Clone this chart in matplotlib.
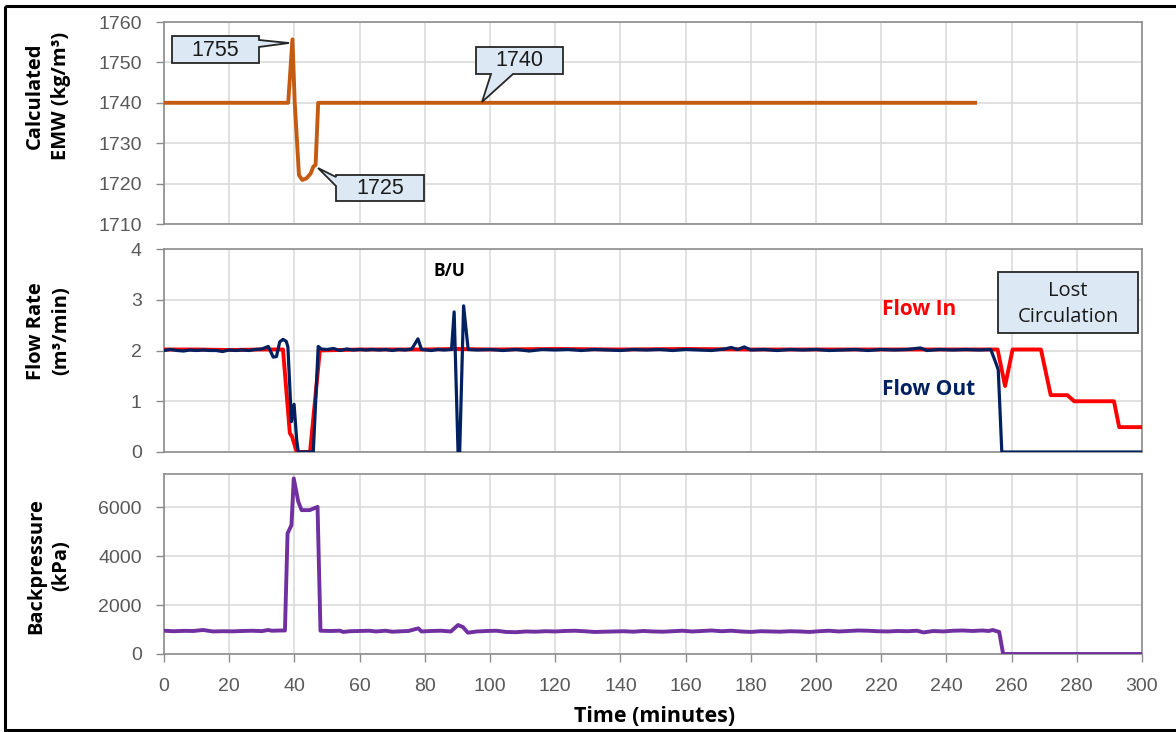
import matplotlib
matplotlib.use('Agg')
import matplotlib.pyplot as plt
from matplotlib.patches import Polygon, Rectangle
from matplotlib.transforms import Affine2D

# ---------------- data ----------------
emw_t = [0, 38.1, 39.4, 40.1, 41.4, 42.4, 43.7, 45.0, 45.8, 46.5, 47.3, 248.8]
emw_v = [1740, 1740, 1755.7, 1740, 1722.1, 1720.9, 1721.3, 1722.5, 1724.2, 1724.6, 1740, 1740]

flow_in_t = [0, 10, 20, 30, 36.5, 38.6, 39.3, 40.7, 44.8, 47.8, 60, 80, 90, 100, 120, 140,
             160, 180, 200, 220, 240, 255.7, 258.0, 260.3, 269.0, 272.0, 277.1, 279.2,
             291.4, 293.0, 300]
flow_in_v = [2.02, 2.02, 2.01, 2.02, 2.02, 0.37, 0.30, 0.0, 0.0, 2.0, 2.02, 2.02, 2.03, 2.02, 2.03, 2.02,
             2.03, 2.02, 2.02, 2.02, 2.02, 2.02, 1.30, 2.02, 2.02, 1.12, 1.12, 1.0,
             1.0, 0.49, 0.49]

flow_out_t = [0, 2, 4, 6, 8, 10, 12, 14, 16, 18, 20, 22, 24, 26, 28, 30, 32, 33.5, 34.5, 35.5,
              36.5, 37.5, 38, 39.1, 39.9, 40.7, 41.2, 45.8, 47.3, 48.2, 50, 52, 54, 56, 58, 60,
              62, 64, 66, 68, 70, 72, 74, 76, 77.9, 79, 82, 84, 86, 88.2, 89, 90.2, 90.7, 91.9,
              93.3, 96, 100, 104, 108, 112, 116, 120, 124, 128, 132, 136, 140, 144, 148, 152,
              156, 160, 164, 168, 172, 174, 176, 178, 180, 184, 188, 192, 196, 200, 204, 208,
              212, 216, 220, 224, 228, 232, 234, 238, 242, 246, 250, 253.6, 255.2, 255.9, 257,
              300]
flow_out_v = [2.0, 2.02, 2.0, 1.99, 2.01, 2.0, 2.01, 2.0, 2.0, 1.98, 2.01, 2.0, 2.01, 2.0, 2.02,
              2.03, 2.08, 1.87, 1.88, 2.17, 2.22, 2.18, 2.07, 0.60, 0.94, 0.24, 0.0, 0.0, 2.08,
              2.03, 2.02, 2.04, 2.0, 2.03, 2.01, 2.02, 2.01, 2.02, 2.01, 2.02, 2.0, 2.02, 2.01,
              2.03, 2.23, 2.02, 2.0, 2.02, 2.01, 2.02, 2.76, 0.0, 0.0, 2.88, 2.02, 2.01, 2.02,
              2.0, 2.02, 1.99, 2.02, 2.01, 2.02, 2.0, 2.02, 2.01, 2.0, 2.02, 2.01, 2.02, 2.0,
              2.02, 2.01, 2.0, 2.03, 2.06, 2.02, 2.07, 2.01, 2.02, 2.0, 2.02, 2.01, 2.02, 2.0,
              2.01, 2.02, 2.0, 2.02, 2.01, 2.02, 2.05, 2.0, 2.02, 2.01, 2.02, 2.01, 2.02, 1.75,
              1.62, 0.0, 0.0]

bp_t = [0, 3, 6, 9, 12, 15, 18, 21, 24, 27, 30, 32, 33, 36, 37.1, 37.9, 39.1, 39.8, 41.2,
        42.2, 44.7, 47.1, 48, 51, 54, 55, 57, 60, 63, 65, 68, 70, 73, 75, 78, 79, 82, 85,
        88, 90.2, 91.7, 93.2, 96, 99, 102, 105, 108, 111, 114, 117, 120, 123, 126, 129, 132,
        135, 138, 141, 144, 147, 150, 153, 156, 159, 162, 165, 168, 171, 174, 177, 180, 183,
        186, 189, 192, 195, 198, 201, 204, 207, 210, 213, 216, 219, 222, 225, 228, 231, 233,
        236, 239, 242, 245, 248, 251, 253, 254.2, 256.2, 257.4, 300]
bp_v = [950, 930, 945, 940, 980, 920, 930, 925, 940, 950, 935, 980, 950, 960, 960, 4923,
        5263, 7168, 6214, 5875, 5875, 6010, 950, 940, 950, 900, 930, 940, 950, 920, 950,
        910, 930, 940, 1048, 920, 940, 950, 920, 1183, 1100, 870, 920, 940, 950, 900, 890,
        920, 910, 930, 920, 940, 950, 930, 900, 910, 920, 930, 910, 940, 920, 910, 930, 950,
        920, 940, 960, 930, 950, 920, 900, 930, 920, 910, 930, 920, 900, 930, 950, 920, 940,
        960, 950, 930, 920, 940, 930, 950, 880, 940, 920, 950, 960, 940, 960, 940, 980, 900,
        0, 0]

x_ticks = list(range(0, 301, 20))
emw_ticks = [1710, 1720, 1730, 1740, 1750, 1760]
flow_ticks = [0, 1, 2, 3, 4]
bp_ticks = [0, 2000, 4000, 6000]

# ---------------- figure ----------------
W, H = 1176, 732
fig = plt.figure(figsize=(W / 100, H / 100), dpi=100)
PX = Affine2D().scale(1 / W, -1 / H).translate(0, 1) + fig.transFigure


def axes_px(l, t, r, b):
    return fig.add_axes([l / W, 1 - b / H, (r - l) / W, (b - t) / H])


ax1 = axes_px(164, 22, 1142, 224)
ax2 = axes_px(164, 249, 1142, 452)
ax3 = axes_px(164, 474, 1142, 654)

tick_font = 'Liberation Sans'
for ax in (ax1, ax2, ax3):
    ax.set_xlim(0, 300)
    ax.set_xticks(x_ticks)
    ax.grid(True, color='#D9D9D9', lw=1.1)
    ax.set_axisbelow(True)
    for s in ax.spines.values():
        s.set_color('#8C8C8C')
        s.set_linewidth(1.2)
    ax.tick_params(axis='y', color='#8C8C8C', labelcolor='#595959', labelsize=14,
                   length=6, pad=10, width=1)

for ax in (ax1, ax2):
    ax.tick_params(axis='x', length=0, labelbottom=False)

ax3.tick_params(axis='x', color='#8C8C8C', labelcolor='#595959', labelsize=14,
                length=6, pad=11, width=1)

ax1.set_ylim(1710, 1760)
ax1.set_yticks(emw_ticks)
ax2.set_ylim(0, 4)
ax2.set_yticks(flow_ticks)
ax3.set_ylim(0, 7350)
ax3.set_yticks(bp_ticks)
for ax in (ax1, ax2, ax3):
    for lab in ax.get_yticklabels() + ax.get_xticklabels():
        lab.set_family(tick_font)

# lines
ax1.plot(emw_t, emw_v, color='#C55A11', lw=2.8, solid_joinstyle='round', zorder=3)
ax2.plot(flow_in_t, flow_in_v, color='#FF0000', lw=2.8, solid_joinstyle='round', zorder=3)
ax2.plot(flow_out_t, flow_out_v, color='#002060', lw=2.3, solid_joinstyle='round', zorder=4)
ax3.plot(bp_t, bp_v, color='#7030A0', lw=2.8, solid_joinstyle='round', zorder=3)

lab_font = ['Open Sans', 'DejaVu Sans']
# y labels
fig.text(48 / W, 1 - 96 / H, 'Calculated\nEMW (kg/m³)', rotation=90, ha='center', va='center',
         fontsize=14.5, fontweight='bold', family=lab_font, linespacing=1.35)
fig.text(49 / W, 1 - 331 / H, 'Flow Rate\n(m³/min)', rotation=90, ha='center', va='center',
         fontsize=14.5, fontweight='bold', family=lab_font, linespacing=1.35)
fig.text(49 / W, 1 - 566 / H, 'Backpressure\n(kPa)', rotation=90, ha='center', va='center',
         fontsize=14.5, fontweight='bold', family=lab_font, linespacing=1.35)
fig.text(655 / W, 1 - 716 / H, 'Time (minutes)', ha='center', va='center',
         fontsize=15.5, fontweight='bold', family=lab_font)

# text annotations in flow panel
ax2.text(87.5, 3.57, 'B/U', ha='center', va='center', fontsize=12.5, fontweight='bold',
         family=lab_font, color='black')
ax2.text(231.7, 2.80, 'Flow In', ha='center', va='center', fontsize=15, fontweight='bold',
         family=lab_font, color='#FF0000')
ax2.text(234.4, 1.24, 'Flow Out', ha='center', va='center', fontsize=15, fontweight='bold',
         family=lab_font, color='#002060')

# callouts (pixel geometry)
box_fc = '#DCE9F5'
box_ec = '#262626'


def callout(pts, text, cx, cy, fs=15.5, fam=tick_font, ls=1.2):
    poly = Polygon(pts, closed=True, transform=PX, facecolor=box_fc, edgecolor=box_ec,
                   lw=1.3, zorder=5, joinstyle='miter')
    fig.add_artist(poly)
    fig.text(cx / W, 1 - cy / H, text, ha='center', va='center', fontsize=fs, family=fam,
             color='#1a1a1a', zorder=6, linespacing=ls)


callout([(172, 36), (259, 36), (259, 40), (289, 43), (259, 47), (259, 63), (172, 63)],
        '1755', 215.5, 50)
callout([(476, 47), (563, 47), (563, 74), (513, 74), (482, 102), (491, 74), (476, 74)],
        '1740', 519.5, 61)
callout([(336, 175), (424, 175), (424, 201), (336, 201), (336, 186), (318, 168), (336, 177)],
        '1725', 380, 188)
callout([(998, 272), (1138, 272), (1138, 333), (998, 333)],
        'Lost\nCirculation', 1068, 304, fs=14.5, fam=lab_font, ls=1.45)

# outer black frame
fig.add_artist(Rectangle((5, 6), 1175, 724, transform=PX, fill=False, edgecolor='black',
                         lw=2.2, zorder=10))

fig.savefig('out.png', dpi=100)
